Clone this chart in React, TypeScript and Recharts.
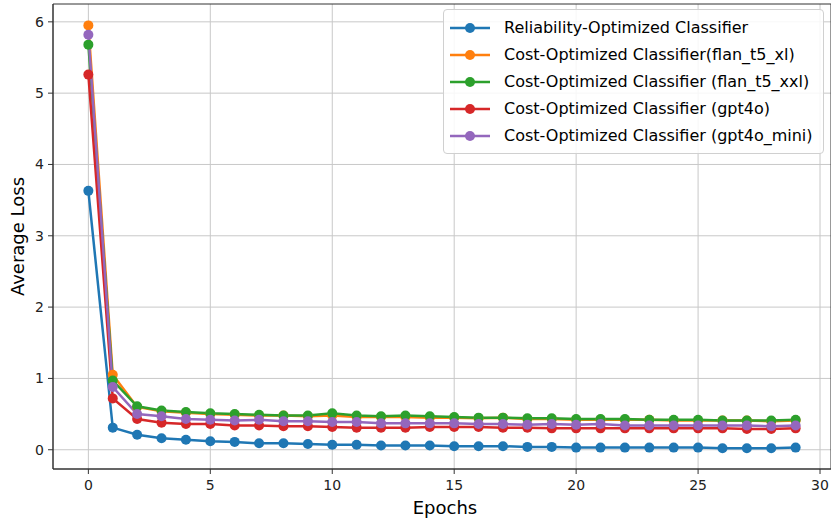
import { CartesianGrid, Legend, Line, LineChart, ReferenceArea, XAxis, YAxis } from "recharts";

const epochs = [0, 1, 2, 3, 4, 5, 6, 7, 8, 9, 10, 11, 12, 13, 14, 15, 16, 17, 18, 19, 20, 21, 22, 23, 24, 25, 26, 27, 28, 29];
const reliability = [3.63, 0.31, 0.21, 0.16, 0.14, 0.12, 0.11, 0.09, 0.09, 0.08, 0.07, 0.07, 0.06, 0.06, 0.06, 0.05, 0.05, 0.05, 0.04, 0.04, 0.03, 0.03, 0.03, 0.03, 0.03, 0.03, 0.02, 0.02, 0.02, 0.03];
const flanXl = [5.95, 1.05, 0.6, 0.54, 0.52, 0.5, 0.49, 0.48, 0.48, 0.47, 0.48, 0.46, 0.46, 0.46, 0.45, 0.45, 0.44, 0.45, 0.43, 0.43, 0.42, 0.42, 0.42, 0.42, 0.41, 0.41, 0.41, 0.41, 0.4, 0.41];
const flanXxl = [5.68, 0.97, 0.61, 0.55, 0.53, 0.51, 0.5, 0.49, 0.48, 0.48, 0.51, 0.48, 0.47, 0.48, 0.47, 0.46, 0.45, 0.45, 0.44, 0.44, 0.43, 0.43, 0.43, 0.42, 0.42, 0.42, 0.41, 0.41, 0.41, 0.42];
const gpt4o = [5.26, 0.72, 0.43, 0.38, 0.36, 0.36, 0.34, 0.34, 0.33, 0.33, 0.32, 0.31, 0.31, 0.31, 0.32, 0.32, 0.32, 0.31, 0.31, 0.3, 0.3, 0.3, 0.3, 0.3, 0.3, 0.3, 0.3, 0.29, 0.29, 0.3];
const gpt4oMini = [5.82, 0.88, 0.5, 0.47, 0.43, 0.42, 0.41, 0.42, 0.4, 0.4, 0.39, 0.39, 0.37, 0.37, 0.37, 0.37, 0.36, 0.36, 0.35, 0.36, 0.35, 0.36, 0.34, 0.34, 0.34, 0.34, 0.34, 0.34, 0.33, 0.34];
const xTicks = [0, 5, 10, 15, 20, 25, 30];
const yTicks = [0, 1, 2, 3, 4, 5, 6];

const series = [
  { key: "reliability", name: "Reliability-Optimized Classifier", color: "#1f77b4", values: reliability },
  { key: "flanXl", name: "Cost-Optimized Classifier(flan_t5_xl)", color: "#ff7f0e", values: flanXl },
  { key: "flanXxl", name: "Cost-Optimized Classifier (flan_t5_xxl)", color: "#2ca02c", values: flanXxl },
  { key: "gpt4o", name: "Cost-Optimized Classifier (gpt4o)", color: "#d62728", values: gpt4o },
  { key: "gpt4oMini", name: "Cost-Optimized Classifier (gpt4o_mini)", color: "#9467bd", values: gpt4oMini },
];

const data = epochs.map((epoch, i) => {
  const row: Record<string, number> = { epoch };
  series.forEach((s) => { row[s.key] = s.values[i]; });
  return row;
});

const font = "'DejaVu Sans', sans-serif";
const xDomain = [-1.45, 30.45];
const yDomain = [-0.27, 6.25];

function LegendBox() {
  return (
    <div style={{ background: "rgba(255,255,255,0.85)", border: "1px solid #d0d0d0", borderRadius: 4, padding: "4px 10px 4px 4px", fontFamily: font, fontSize: 16, color: "#000" }}>
      {series.map((s) => (
        <div key={s.key} style={{ display: "flex", alignItems: "center", height: 27 }}>
          <svg width={44} height={12} style={{ marginRight: 12 }}>
            <line x1={2} x2={42} y1={6} y2={6} stroke={s.color} strokeWidth={2.5} />
            <circle cx={22} cy={6} r={5} fill={s.color} />
          </svg>
          <span>{s.name}</span>
        </div>
      ))}
    </div>
  );
}

function XLabel({ viewBox }: any) {
  return (
    <text x={viewBox.x + viewBox.width / 2 + 3} y={viewBox.y + 45} textAnchor="middle" fontSize={18} fill="#000" fontFamily={font}>
      Epochs
    </text>
  );
}

function YLabel({ viewBox }: any) {
  const cy = viewBox.y + viewBox.height / 2;
  return (
    <text x={0} y={0} transform={`translate(17, ${cy}) rotate(-90)`} textAnchor="middle" dominantBaseline="central" fontSize={18} fill="#000" fontFamily={font}>
      Average Loss
    </text>
  );
}

export default function App() {
  return (
    <div style={{ position: "absolute", left: 0, top: 0, width: 831, height: 519, background: "#fff" }}>
      <LineChart width={831} height={519} data={data} margin={{ top: 4, right: 0, bottom: 0, left: 0 }} style={{ fontFamily: font }}>
        <CartesianGrid stroke="#c8c8c8" strokeWidth={1} verticalValues={xTicks} horizontalValues={yTicks} />
        <XAxis
          dataKey="epoch"
          type="number"
          domain={xDomain}
          ticks={xTicks}
          allowDataOverflow
          height={50}
          stroke="#333"
          tick={{ fill: "#222", fontSize: 14 }}
          tickSize={5}
          tickMargin={6}
          label={<XLabel />}
        />
        <YAxis
          type="number"
          domain={yDomain}
          ticks={yTicks}
          allowDataOverflow
          width={53}
          stroke="#333"
          tick={{ fill: "#222", fontSize: 14 }}
          tickSize={5}
          tickMargin={4}
          label={<YLabel />}
        />
        <ReferenceArea x1={xDomain[0]} x2={xDomain[1]} y1={yDomain[0]} y2={yDomain[1]} fill="none" stroke="#333" strokeWidth={1} ifOverflow="visible" />
        {series.map((s) => (
          <Line
            key={s.key}
            dataKey={s.key}
            name={s.name}
            stroke={s.color}
            strokeWidth={2.5}
            dot={{ r: 5, fill: s.color, stroke: s.color, strokeWidth: 0 }}
            activeDot={false}
            type="linear"
            isAnimationActive={false}
          />
        ))}
        <Legend layout="vertical" align="center" verticalAlign="middle" wrapperStyle={{ position: "absolute", left: 443, top: 9, width: "auto" }} content={() => <LegendBox />} />
      </LineChart>
    </div>
  );
}
